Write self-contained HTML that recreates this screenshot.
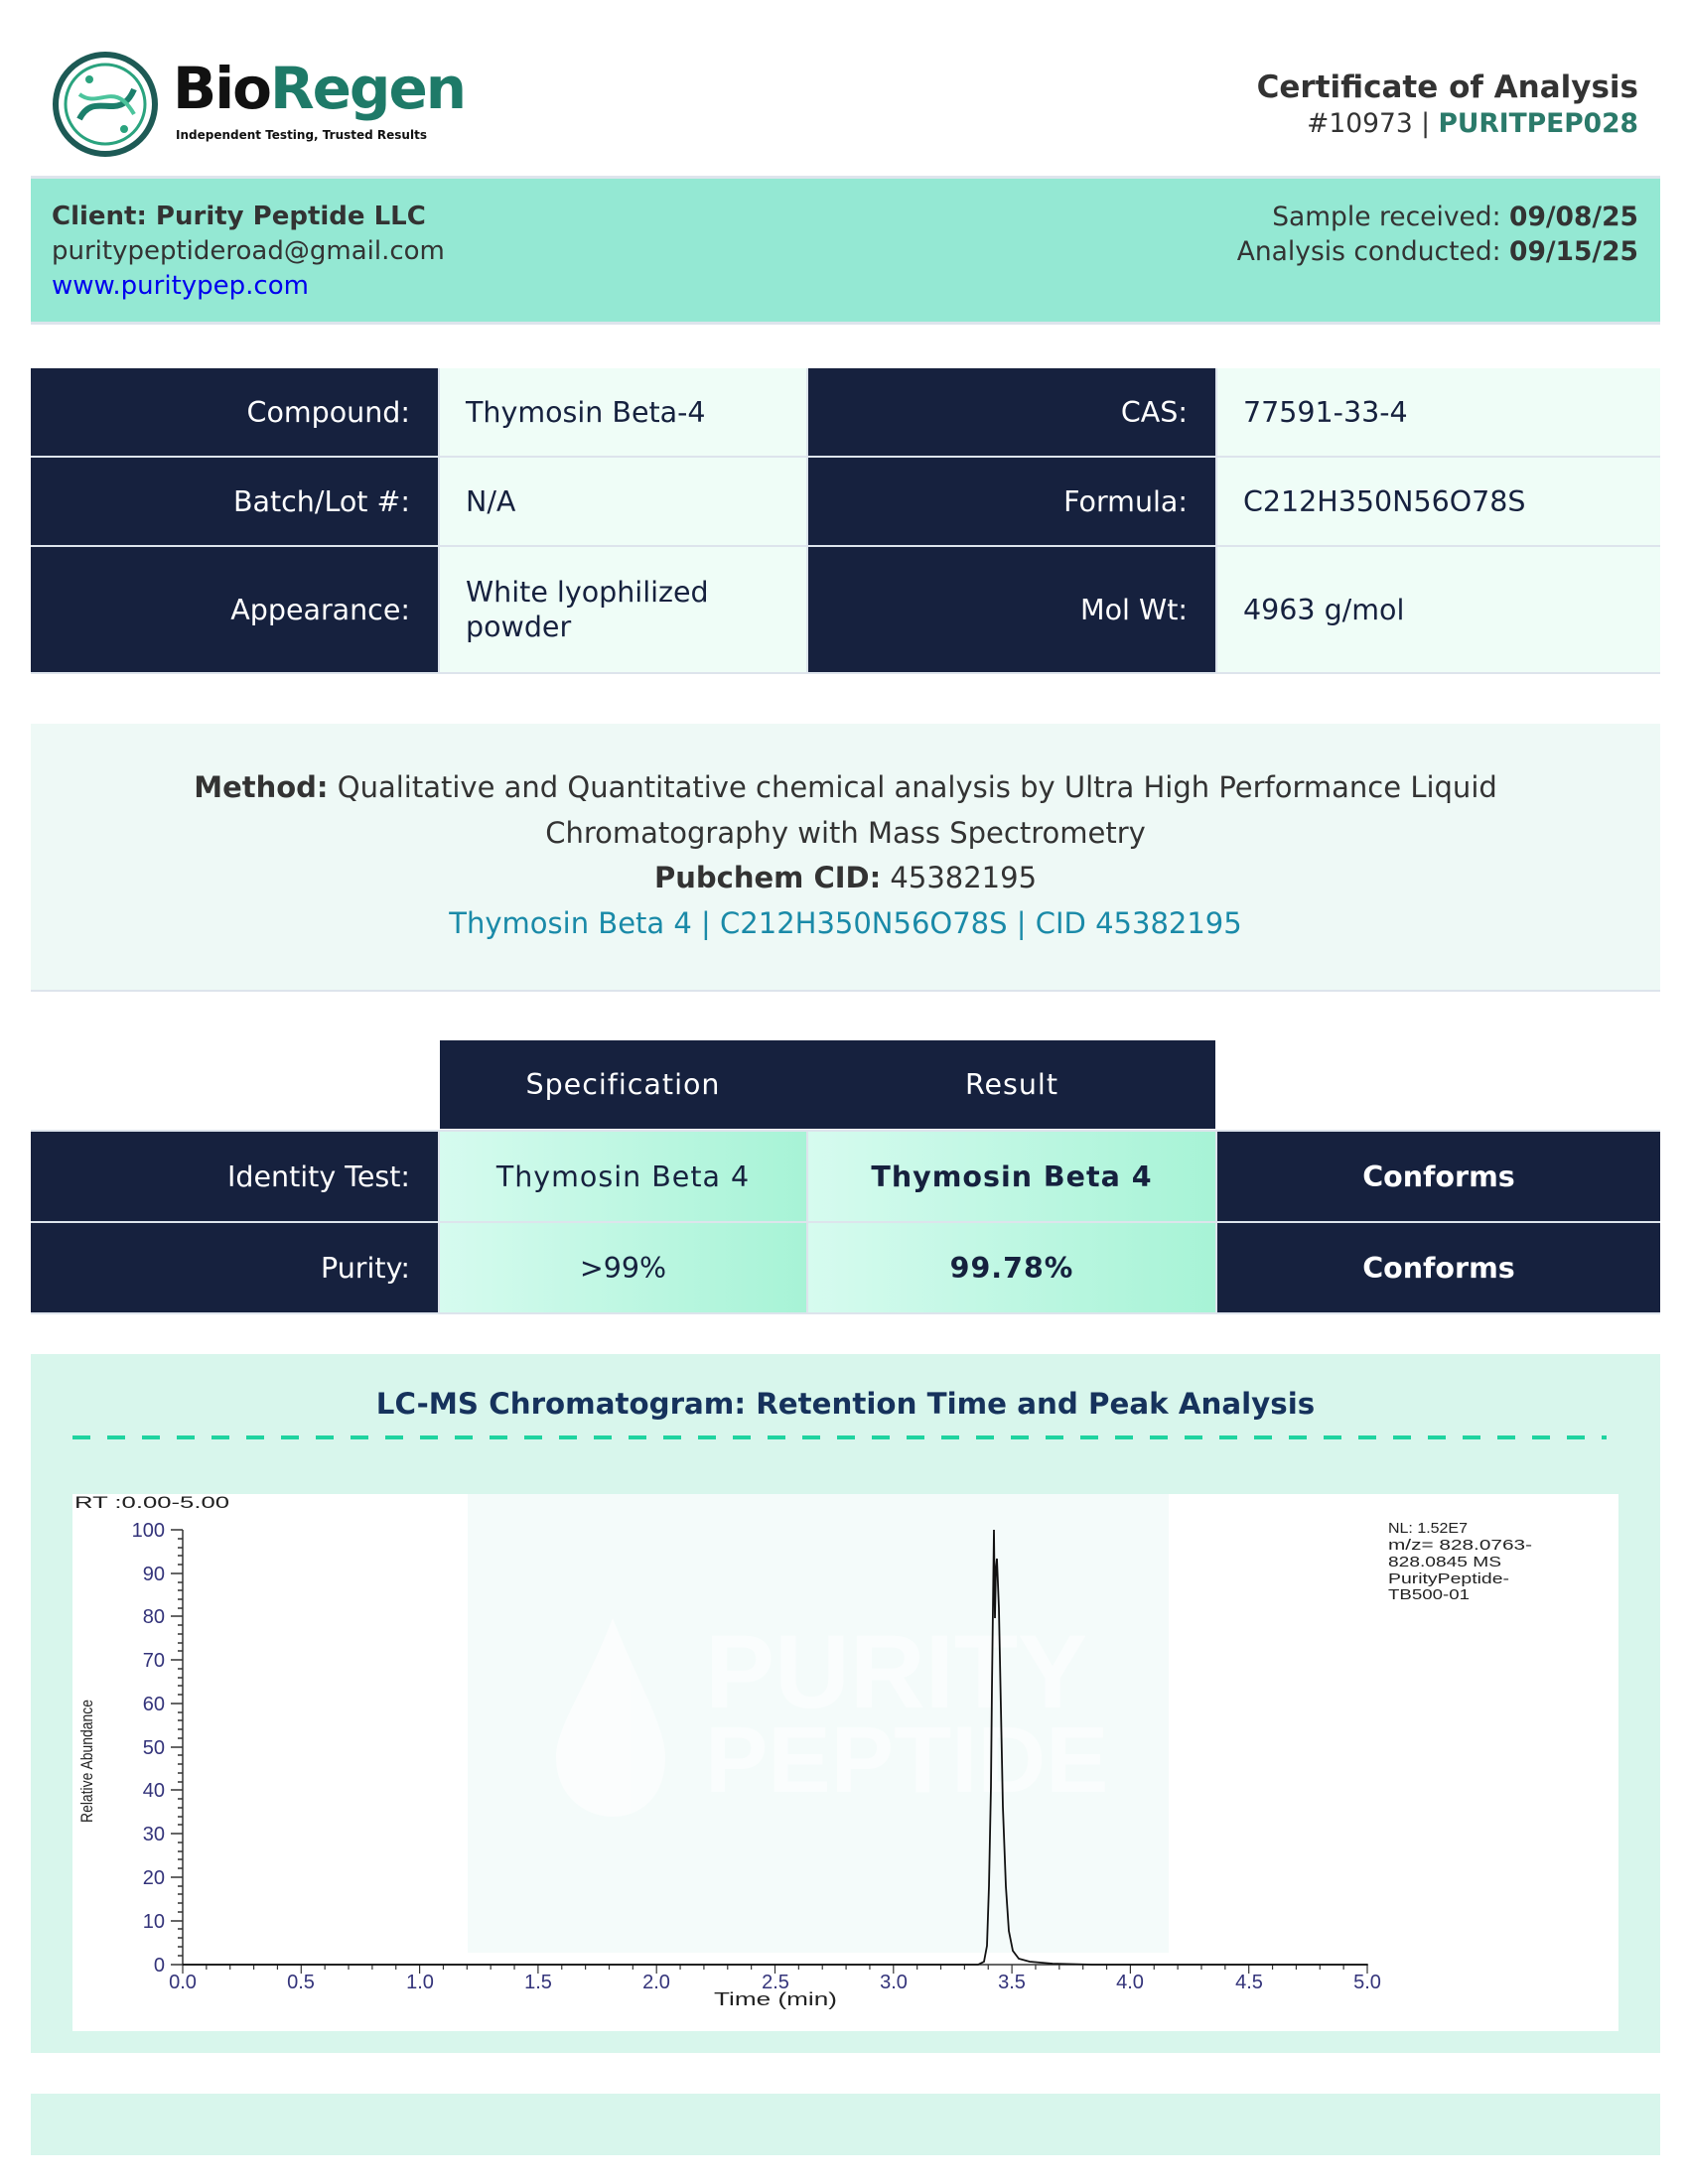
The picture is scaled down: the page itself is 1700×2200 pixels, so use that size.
<!DOCTYPE html>
<html><head><meta charset="utf-8"><style>
*{margin:0;padding:0;box-sizing:border-box}
body{width:1700px;height:2200px;background:#fff;position:relative;font-family:"DejaVu Sans","Liberation Sans",sans-serif;color:#333;overflow:hidden}
.a{position:absolute}
.cell{position:absolute;display:flex;align-items:center;font-size:28.5px}
.d{background:#16213e;color:#fff;justify-content:flex-end;padding-right:28px}
.l{background:#effdf7;color:#16213e;padding-left:26px}
</style></head><body>
<svg class="a" style="left:50px;top:50px" width="115" height="110" viewBox="0 0 115 110">
<circle cx="56" cy="55" r="50" fill="none" stroke="#1d5a55" stroke-width="6"/>
<circle cx="56" cy="55" r="40" fill="none" stroke="#2aa37e" stroke-width="3"/>
<path d="M30 70 C45 40,70 75,85 40" fill="none" stroke="#1b7f6b" stroke-width="6"/>
<path d="M30 45 C50 60,65 30,85 65" fill="none" stroke="#4cc49c" stroke-width="4"/>
<circle cx="40" cy="30" r="4" fill="#2aa37e"/><circle cx="75" cy="80" r="4" fill="#2aa37e"/>
</svg>
<div class="a" style="left:174px;top:60px;font-size:58px;font-weight:bold;letter-spacing:-2px;line-height:1"><span style="color:#111">Bio</span><span style="color:#1e7a68">Regen</span></div>
<div class="a" style="left:177px;top:129px;font-size:12px;font-weight:bold;color:#111">Independent Testing, Trusted Results</div>
<div class="a" style="right:50px;top:70px;font-size:31px;font-weight:bold;color:#333;text-align:right">Certificate of Analysis</div>
<div class="a" style="right:50px;top:109px;font-size:26.5px;color:#333;text-align:right">#10973 | <b style="color:#2b7a6a">PURITPEP028</b></div>
<div class="a" style="left:31px;top:177px;width:1641px;height:150px;background:#94e8d3;border-top:3px solid #dde4ec;border-bottom:3px solid #dde4ec"></div>
<div class="a" style="left:52px;top:201px;font-size:26px;line-height:35px"><b>Client: Purity Peptide LLC</b><br>puritypeptideroad@gmail.com<br><span style="color:#0000ee">www.puritypep.com</span></div>
<div class="a" style="right:50px;top:201px;font-size:26.5px;line-height:35px;text-align:right">Sample received: <b>09/08/25</b><br>Analysis conducted: <b>09/15/25</b></div>
<div class="a" style="left:31px;top:371px;width:1641px;height:308px;background:#dde4ec"></div>
<div class="cell d" style="left:31px;top:371px;width:410px;height:88px">Compound:</div>
<div class="cell l" style="left:443px;top:371px;width:369px;height:88px">Thymosin Beta-4</div>
<div class="cell d" style="left:814px;top:371px;width:410px;height:88px">CAS:</div>
<div class="cell l" style="left:1226px;top:371px;width:446px;height:88px">77591-33-4</div>
<div class="cell d" style="left:31px;top:461px;width:410px;height:88px">Batch/Lot #:</div>
<div class="cell l" style="left:443px;top:461px;width:369px;height:88px">N/A</div>
<div class="cell d" style="left:814px;top:461px;width:410px;height:88px">Formula:</div>
<div class="cell l" style="left:1226px;top:461px;width:446px;height:88px">C212H350N56O78S</div>
<div class="cell d" style="left:31px;top:551px;width:410px;height:126px">Appearance:</div>
<div class="cell l" style="left:443px;top:551px;width:369px;height:126px;line-height:35px">White lyophilized<br>powder</div>
<div class="cell d" style="left:814px;top:551px;width:410px;height:126px">Mol Wt:</div>
<div class="cell l" style="left:1226px;top:551px;width:446px;height:126px">4963 g/mol</div>
<div class="a" style="left:31px;top:729px;width:1641px;height:270px;background:#eef9f6;border-bottom:2px solid #dde4ec"></div>
<div class="a" style="left:31px;top:771px;width:1641px;text-align:center;font-size:29px;line-height:45.5px;color:#333"><b>Method:</b> Qualitative and Quantitative chemical analysis by Ultra High Performance Liquid<br>Chromatography with Mass Spectrometry<br><b>Pubchem CID:</b> 45382195<br><span style="color:#1a8aa8">Thymosin Beta 4 | C212H350N56O78S | CID 45382195</span></div>
<div class="cell" style="left:443px;top:1048px;width:781px;height:89px;background:#16213e"></div>
<div class="cell" style="left:443px;top:1048px;width:369px;height:89px;color:#fff;justify-content:center;letter-spacing:1px">Specification</div>
<div class="cell" style="left:814px;top:1048px;width:410px;height:89px;color:#fff;justify-content:center;letter-spacing:1px">Result</div>
<div class="a" style="left:31px;top:1138px;width:1641px;height:186px;background:#dde4ec"></div>
<div class="cell d" style="left:31px;top:1140px;width:410px;height:90px">Identity Test:</div>
<div class="cell" style="left:443px;top:1140px;width:369px;height:90px;justify-content:center;color:#16213e;background:linear-gradient(90deg,#d6fbef,#a7f3d6);letter-spacing:1px">Thymosin Beta 4</div>
<div class="cell" style="left:814px;top:1140px;width:410px;height:90px;justify-content:center;color:#16213e;font-weight:bold;background:linear-gradient(90deg,#d6fbef,#a7f3d6);letter-spacing:1px">Thymosin Beta 4</div>
<div class="cell" style="left:1226px;top:1140px;width:446px;height:90px;justify-content:center;color:#fff;font-weight:bold;background:#16213e">Conforms</div>
<div class="cell d" style="left:31px;top:1232px;width:410px;height:90px">Purity:</div>
<div class="cell" style="left:443px;top:1232px;width:369px;height:90px;justify-content:center;color:#16213e;background:linear-gradient(90deg,#d6fbef,#a7f3d6)">&gt;99%</div>
<div class="cell" style="left:814px;top:1232px;width:410px;height:90px;justify-content:center;color:#16213e;font-weight:bold;background:linear-gradient(90deg,#d6fbef,#a7f3d6);letter-spacing:1px">99.78%</div>
<div class="cell" style="left:1226px;top:1232px;width:446px;height:90px;justify-content:center;color:#fff;font-weight:bold;background:#16213e">Conforms</div>
<div class="a" style="left:31px;top:1364px;width:1641px;height:704px;background:#d8f6ec"></div>
<div class="a" style="left:31px;top:1397px;width:1641px;text-align:center;font-size:29.3px;font-weight:bold;color:#16325c">LC-MS Chromatogram: Retention Time and Peak Analysis</div>
<svg class="a" style="left:73px;top:1446px" width="1545" height="4"><line x1="0" y1="2" x2="1545" y2="2" stroke="#1fd3a0" stroke-width="4" stroke-dasharray="18 17"/></svg>
<svg class="a" style="left:73px;top:1505px" width="1557" height="541" viewBox="73 1505 1557 541" font-family="Liberation Sans, Arial, sans-serif">
<rect x="73" y="1505" width="1557" height="541" fill="#fff"/>
<rect x="471" y="1505" width="706" height="462" fill="#f4fbfa"/>
<g opacity="0.6">
<text x="710" y="1720" font-size="105" fill="#fff" font-weight="bold">PURITY</text>
<text x="710" y="1805" font-size="95" fill="#fff" font-weight="bold">PEPTIDE</text>
<path d="M617 1630 C590 1700,560 1740,560 1770 C560 1810,590 1830,617 1830 C645 1830,670 1810,670 1770 C670 1740,645 1700,617 1630Z" fill="#fff"/>
</g>
<text x="75" y="1519" font-size="17" fill="#222" textLength="156" lengthAdjust="spacingAndGlyphs">RT :0.00-5.00</text>
<text transform="translate(93,1836) rotate(-90)" font-size="17" fill="#222" textLength="124" lengthAdjust="spacingAndGlyphs">Relative Abundance</text>
<text x="719" y="2020" font-size="18" fill="#222" textLength="124" lengthAdjust="spacingAndGlyphs">Time (min)</text>
<g font-size="15" fill="#222"><text x="1398" y="1544" textLength="80" lengthAdjust="spacingAndGlyphs">NL: 1.52E7</text><text x="1398" y="1561" textLength="145" lengthAdjust="spacingAndGlyphs">m/z= 828.0763-</text><text x="1398" y="1578" textLength="114" lengthAdjust="spacingAndGlyphs">828.0845 MS</text><text x="1398" y="1595" textLength="122" lengthAdjust="spacingAndGlyphs">PurityPeptide-</text><text x="1398" y="1611" textLength="82" lengthAdjust="spacingAndGlyphs">TB500-01</text></g>
<g stroke="#333" stroke-width="1.5" fill="none">
<line x1="184" y1="1541" x2="184" y2="1979"/><line x1="184" y1="1979" x2="1378" y2="1979"/>
<path d="M184 1541h-12M184 1585h-12M184 1628h-12M184 1672h-12M184 1716h-12M184 1760h-12M184 1803h-12M184 1847h-12M184 1891h-12M184 1935h-12M184 1979h-12"/>
<path d="M184 1550h-5M184 1559h-5M184 1567h-5M184 1576h-5M184 1594h-5M184 1602h-5M184 1611h-5M184 1620h-5M184 1637h-5M184 1646h-5M184 1655h-5M184 1663h-5M184 1681h-5M184 1690h-5M184 1698h-5M184 1707h-5M184 1725h-5M184 1733h-5M184 1742h-5M184 1751h-5M184 1768h-5M184 1777h-5M184 1786h-5M184 1795h-5M184 1812h-5M184 1821h-5M184 1830h-5M184 1838h-5M184 1856h-5M184 1865h-5M184 1873h-5M184 1882h-5M184 1900h-5M184 1908h-5M184 1917h-5M184 1926h-5M184 1943h-5M184 1952h-5M184 1961h-5M184 1970h-5"/>
</g>
<g id="xt" stroke="#333" stroke-width="1.2"></g>
<g font-size="20" fill="#33337a" text-anchor="end">
<text x="166" y="1548">100</text><text x="166" y="1592">90</text><text x="166" y="1635">80</text><text x="166" y="1679">70</text><text x="166" y="1723">60</text><text x="166" y="1767">50</text><text x="166" y="1810">40</text><text x="166" y="1854">30</text><text x="166" y="1898">20</text><text x="166" y="1942">10</text><text x="166" y="1986">0</text></g>
<g font-size="20" fill="#33337a" text-anchor="middle">
<text x="184" y="2003">0.0</text><text x="303" y="2003">0.5</text><text x="423" y="2003">1.0</text><text x="542" y="2003">1.5</text><text x="661" y="2003">2.0</text><text x="781" y="2003">2.5</text><text x="900" y="2003">3.0</text><text x="1019" y="2003">3.5</text><text x="1138" y="2003">4.0</text><text x="1258" y="2003">4.5</text><text x="1377" y="2003">5.0</text></g>
<path d="M184 1979 L985 1979 L991 1976 L994 1960 L996 1900 L998 1800 L999 1700 L1001 1541 L1002 1630 L1003 1580 L1004 1570 L1006 1620 L1008 1720 L1010 1820 L1013 1900 L1016 1945 L1020 1965 L1026 1973 L1037 1976 L1060 1978 L1100 1979 L1377 1979" fill="none" stroke="#111" stroke-width="1.8"/>
</svg>
<script>
var g=document.getElementById('xt'),s='';
for(var i=0;i<=50;i++){var x=184+i*23.86;var h=(i%5==0)?9:5;s+='<line x1="'+x+'" y1="1979" x2="'+x+'" y2="'+(1979+h)+'"/>';}
g.innerHTML=s;
</script>
<div class="a" style="left:31px;top:2109px;width:1641px;height:62px;background:#d8f6ec"></div>
</body></html>
